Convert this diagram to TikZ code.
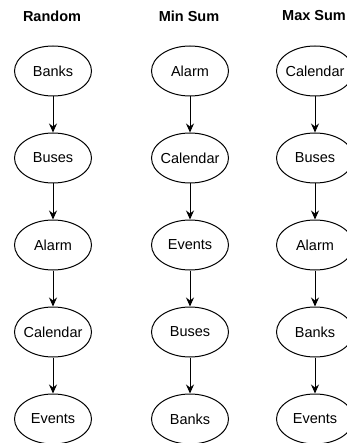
\documentclass[tikz,border=0pt]{standalone}
\usepackage{fontspec}
\setmainfont{Liberation Sans}
\usetikzlibrary{positioning, arrows.meta, shapes.geometric}

\begin{document}
\begin{tikzpicture}[node distance=36pt,->,>={Stealth[length=9pt,width=8pt,inset=3pt]},
  every edge/.append style={line width=1pt},
  app/.style={ellipse, draw, line width=1pt, minimum width=77pt, minimum height=50pt,
    inner xsep=-8pt, inner ysep=0pt, font=\fontsize{14.5}{16}\selectfont},
  head/.style={font=\bfseries\fontsize{14.5}{16}\selectfont}]
  \useasboundingbox (0,0) rectangle (346pt,-443pt);
  % column titles
  \node[head] (t1) at (52pt,-16pt) {Random};
  \node[head] (t2) at (189pt,-16pt) {Min Sum};
  \node[head] (t3) at (314pt,-16pt) {Max Sum};
  % Random
  \node[app] (r1) at (53pt,-71pt) {Banks};
  \node[app] (r2) [below=of r1] {Buses};
  \node[app] (r3) [below=of r2] {Alarm};
  \node[app] (r4) [below=of r3] {Calendar};
  \node[app] (r5) [below=of r4] {Events};
  % Min Sum
  \node[app] (n1) at (190pt,-71pt) {Alarm};
  \node[app] (n2) [below=of n1] {Calendar};
  \node[app] (n3) [below=of n2] {Events};
  \node[app] (n4) [below=of n3] {Buses};
  \node[app] (n5) [below=of n4] {Banks};
  % Max Sum
  \node[app] (x1) at (315pt,-71pt) {Calendar};
  \node[app] (x2) [below=of x1] {Buses};
  \node[app] (x3) [below=of x2] {Alarm};
  \node[app] (x4) [below=of x3] {Banks};
  \node[app] (x5) [below=of x4] {Events};
  \path (r1) edge (r2) (r2) edge (r3) (r3) edge (r4) (r4) edge (r5)
        (n1) edge (n2) (n2) edge (n3) (n3) edge (n4) (n4) edge (n5)
        (x1) edge (x2) (x2) edge (x3) (x3) edge (x4) (x4) edge (x5);
\end{tikzpicture}
\end{document}
